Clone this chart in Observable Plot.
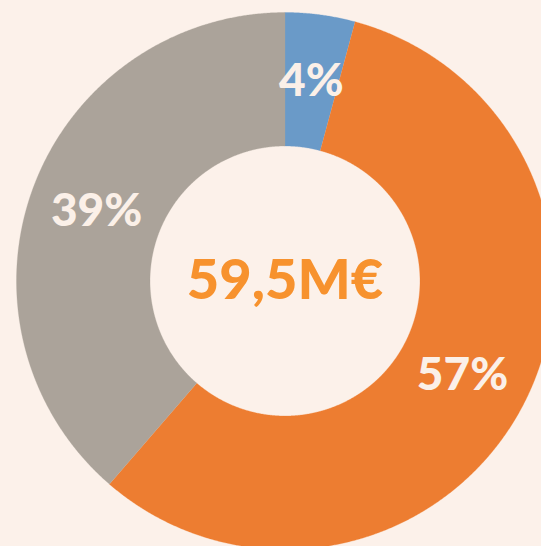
<!DOCTYPE html>
<html>
<head>
<meta charset="utf-8">
<script src="https://cdn.jsdelivr.net/npm/d3@7"></script>
<script src="https://cdn.jsdelivr.net/npm/@observablehq/plot@0.6"></script>
<style>
  html, body { margin: 0; padding: 0; background: #FCF1EA; overflow: hidden; }
  #chart svg { display: block; background: #FCF1EA; }
</style>
</head>
<body>
<div id="chart"></div>
<script>
// Data (M€)
const categories = ["A", "B", "C"];
const values = [2.5, 34, 23];
const colors = ["#6A9AC8", "#ED7D31", "#ABA39A"];
const labels = ["4%", "57%", "39%"];
const totalLabel = "59,5M€";

// Layout
const W = 541, H = 546;
const cx = 284.5, cy = 280.5, R = 268.5, r = 135;
const labelR = 201;

const pie = d3.pie().sort(null).value(d => d.value);
const rows = categories.map((c, i) => ({ key: c, value: values[i], color: colors[i], label: labels[i] }));
const arcs = pie(rows);

// Build polygon points for each slice (angles clockwise from top)
const pts = [];
const step = Math.PI / 720;
for (const a of arcs) {
  const k = a.data.key;
  const n = Math.max(2, Math.ceil((a.endAngle - a.startAngle) / step));
  for (let j = 0; j <= n; j++) {
    const t = a.startAngle + (a.endAngle - a.startAngle) * j / n;
    pts.push({ key: k, x: R * Math.sin(t), y: -R * Math.cos(t) });
  }
  for (let j = n; j >= 0; j--) {
    const t = a.startAngle + (a.endAngle - a.startAngle) * j / n;
    pts.push({ key: k, x: r * Math.sin(t), y: -r * Math.cos(t) });
  }
}
const labelPts = arcs.map(a => {
  const t = (a.startAngle + a.endAngle) / 2;
  return { key: a.data.key, label: a.data.label, x: labelR * Math.sin(t), y: -labelR * Math.cos(t) };
});

const chart = Plot.plot({
  width: W,
  height: H,
  margin: 0,
  style: { background: "#FCF1EA", fontFamily: "Lato, 'Open Sans', sans-serif", overflow: "visible" },
  x: { domain: [-cx, W - cx], range: [0, W], axis: null },
  y: { domain: [-cy, H - cy], range: [0, H], axis: null },
  color: { domain: categories, range: colors },
  marks: [
    Plot.line(pts, { x: "x", y: "y", z: "key", fill: "key", stroke: "key", strokeWidth: 0.3, curve: "linear" }),
    Plot.text(labelPts, { x: "x", y: "y", text: "label", fill: "#FBF0E8", fontSize: 46, fontWeight: 900 }),
    Plot.text([{ x: 0, y: 0, t: totalLabel }], { x: "x", y: "y", text: "t", fill: "#F7922E", fontSize: 56, fontWeight: 900 })
  ]
});
document.getElementById("chart").appendChild(chart);
</script>
</body>
</html>
